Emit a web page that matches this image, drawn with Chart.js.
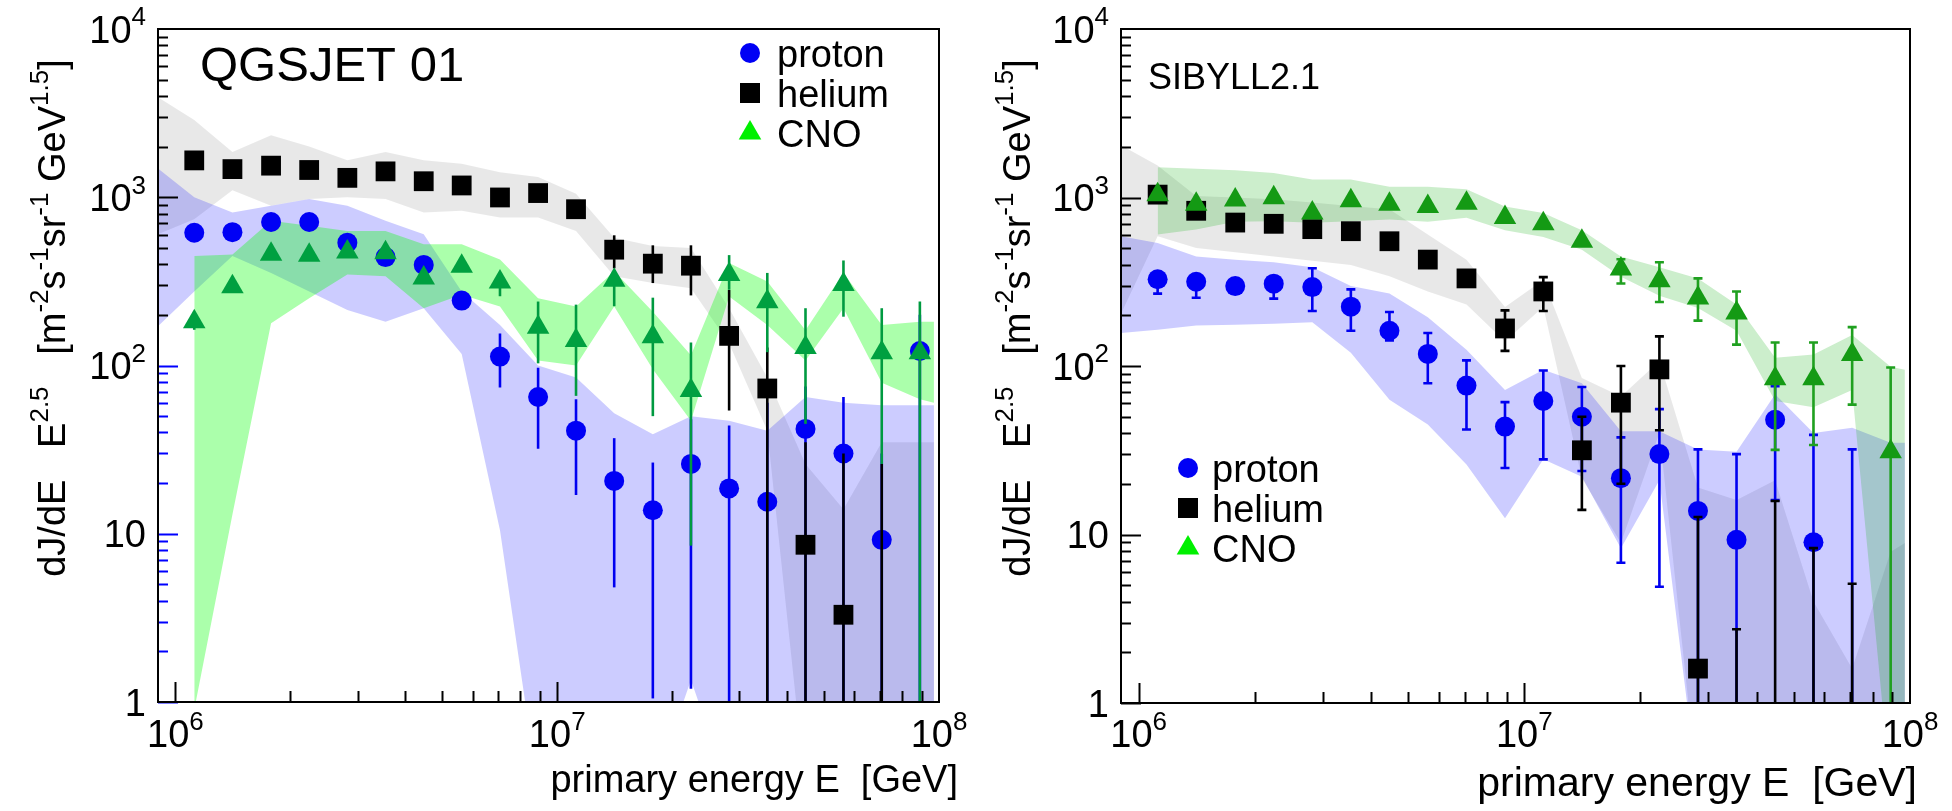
<!DOCTYPE html>
<html>
<head>
<meta charset="utf-8">
<script src="https://cdn.jsdelivr.net/npm/chart.js@4.4.1/dist/chart.umd.min.js"></script>
<style>
html, body { margin: 0; padding: 0; background: #fff; }
#wrap { position: relative; width: 1952px; height: 811px; }
.pane { position: absolute; top: 0; width: 976px; height: 811px; }
</style>
</head>
<body>
<div id="wrap">
  <div class="pane" style="left:0"><canvas id="qgs" width="976" height="811"></canvas></div>
  <div class="pane" style="left:976px"><canvas id="sib" width="976" height="811"></canvas></div>
</div>
<script>
// energy bins (GeV), 0.1 in log10 wide
var binE = [1.12e6, 1.41e6, 1.78e6, 2.24e6, 2.82e6, 3.55e6, 4.47e6, 5.62e6, 7.08e6, 8.91e6,
            1.12e7, 1.41e7, 1.78e7, 2.24e7, 2.82e7, 3.55e7, 4.47e7, 5.62e7, 7.08e7, 8.91e7];
// systematic bands run a little past the first and last bin
var bandE = [9.0e5].concat(binE, [9.7e7]);

var legendLabels = ["proton", "helium", "CNO"];
var xTickVals = [1e6, 1e7, 1e8];
var xTickLabels = [["10", "6"], ["10", "7"], ["10", "8"]];
var yTickVals = [1, 10, 100, 1000, 10000];
var yTickLabels = [["1", ""], ["10", ""], ["10", "2"], ["10", "3"], ["10", "4"]];

// ---- QGSJET 01 ----
var qgsProton   = [615, 620, 713, 713, 537, 441, 396, 243, 113, 65, 41, 20.6, 13.8, 26, 18.6, 15.5, 42, 30, 9.2, 122];
var qgsProtonHi = [null, null, null, null, null, null, null, null, 155, 97, 63, 37, 26.5, 48, 44, 60, 75, 65, 30, 200];
var qgsProtonLo = [null, null, null, null, null, null, null, null, 74, 32, 17, 4.8, 1.05, 1.2, 0.3, 0.3, 0.3, 0.3, 0.3, 0.3];

var qgsHelium   = [1656, 1470, 1541, 1452, 1304, 1425, 1245, 1175, 997, 1059, 849, 488, 403, 392, 150, 73, 8.6, 3.3, null, null];
var qgsHeliumHi = [null, null, null, null, null, null, null, null, null, null, null, 594, 518, 518, 281, 128, 35, 30, 26, null];
var qgsHeliumLo = [null, null, null, null, null, null, null, null, null, null, null, 378, 309, 261, 54, 0.3, 0.3, 0.3, 0.3, null];

var qgsCNO   = [182, 294, 459, 452, 473, 468, 331, 389, 313, 169, 141, 321, 148, 71, 347, 239, 128, 303, 119, 119];
var qgsCNOHi = [200, null, null, null, null, null, null, null, 340, 240, 230, 370, 253, 137, 453, 355, 219, 421, 219, 240];
var qgsCNOLo = [163, null, null, null, null, null, null, null, 258, 103, 66, 225, 50, 8.5, 282, 120, 45, 195, 26, 0.3];

var qgsHeBandHi = [3930, 2880, 1860, 2340, 2000, 1660, 1860, 1660, 1580, 1410, 1320, 1050, 575, 513, 500, 219, 85, 26, 14, 35, 35, 35];
var qgsHeBandLo = [603, 741, 1100, 891, 977, 1000, 977, 813, 832, 759, 759, 631, 339, 309, 288, 135, 41, 0.3, 0.3, 0.3, 0.3, 0.3];
var qgsPBandHi  = [1480, 1000, 813, 891, 977, 891, 724, 603, 275, 174, 100, 85, 52, 39, 50, 47, 41, 65, 60, 58, 58, 58];
var qgsPBandLo  = [171, 275, 447, 355, 275, 214, 182, 219, 117, 10.5, 0.3, 0.3, 0.3, 0.3, 1.35, 0.3, 0.3, 0.3, 0.3, 0.3, 0.3, 0.3];
var qgsCBandHi  = [null, 447, 457, 724, 676, 631, 631, 525, 525, 427, 251, 224, 363, 209, 115, 407, 316, 162, 355, 174, 182, 182];
var qgsCBandLo  = [null, 0.9, 13, 178, 251, 347, 339, 219, 263, 224, 107, 100, 224, 95, 47, 257, 174, 107, 219, 79, 63, 60];

// ---- SIBYLL 2.1 ----
var sibProton   = [327, 316, 298, 308, 294, 225, 162, 118, 76.5, 43.7, 62, 50, 21.6, 30, 13.8, 9.3, 48, 9.0, null, null];
var sibProtonHi = [345, 335, null, 330, 380, 285, 209, 157, 108, 61, 94, 75, 37.7, 55.5, 32, 30, 76, 39, 32, null];
var sibProtonLo = [269, 254, null, 251, 212, 162, 142, 79, 42, 24.8, 27.9, 23.8, 6.8, 4.9, 0.3, 0.3, 16, 0.3, 0.3, null];

var sibHelium   = [1040, 834, 710, 698, 649, 631, 550, 428, 331, 167, 277, 31.6, 60.6, 95.5, 1.6, null, null, null, null, null];
var sibHeliumHi = [null, null, null, null, null, null, null, null, null, 214, 337, 50, 100, 150, 12.7, 2.74, 15.8, 8.3, 5.1, null];
var sibHeliumLo = [null, null, null, null, null, null, null, null, null, 123, 212, 14, 20, 41.6, 0.3, 0.3, 0.3, 0.3, 0.3, null];

var sibCNO   = [1040, 912, 968, 998, 810, 957, 912, 885, 923, 762, 698, 550, 377, 321, 253, 206, 84, 84, 117, 31];
var sibCNOHi = [null, null, null, null, null, null, null, null, null, null, null, null, 430, 413, 331, 277, 138, 138, 170, 98];
var sibCNOLo = [null, null, null, null, null, null, null, null, null, null, null, null, 309, 240, 186, 134, 31.8, 34, 59, 0.3];

var sibHeBandHi = [2040, 1550, 1020, 1000, 977, 933, 891, 851, 603, 427, 224, 324, 85, 66, 107, 19, 16, 21, 4, 1.6, 7.9, 8.9];
var sibHeBandLo = [204, 589, 501, 473, 447, 421, 398, 341, 277, 232, 140, 225, 21.6, 8.9, 40, 0.3, 0.3, 0.3, 0.3, 0.3, 0.3, 0.3];
var sibPBandHi  = [589, 537, 447, 427, 413, 385, 298, 269, 195, 125, 72, 95, 79, 41, 41, 32, 31, 68, 40, 43, 35, 35];
var sibPBandLo  = [157, 164, 174, 176, 178, 182, 120, 63, 45, 26, 12.5, 28, 22, 8.3, 21, 0.3, 0.3, 0.3, 0.3, 0.3, 0.3, 0.3];
var sibCBandHi  = [null, 1510, 1480, 1450, 1400, 1280, 1280, 1160, 1160, 1120, 885, 810, 640, 447, 385, 331, 232, 112, 117, 153, 99, 95];
var sibCBandLo  = [null, 603, 646, 719, 724, 708, 724, 741, 718, 759, 640, 583, 490, 339, 261, 221, 162, 62, 57, 72, 0.3, 0.3];

var FONT = '"Liberation Sans", Arial, Helvetica, sans-serif';

function pts(xs, ys) {
    return xs.map(function (x, i) { return { x: x, y: ys[i] }; });
}

// shaded band = upper line filled down to the lower line
function band(hi, lo, color, order) {
    return [
        { type: 'line', data: pts(bandE, hi), fill: '+1', backgroundColor: color,
          borderColor: 'rgba(0,0,0,0)', borderWidth: 0, pointRadius: 0, order: order },
        { type: 'line', data: pts(bandE, lo), fill: false,
          borderColor: 'rgba(0,0,0,0)', borderWidth: 0, pointRadius: 0, order: order }
    ];
}

function marks(vals, style, radius, color, hi, lo, errColor, cap, order) {
    return { type: 'scatter', data: pts(binE, vals), pointStyle: style, pointRadius: radius,
             backgroundColor: color, borderWidth: 0, errHi: hi, errLo: lo,
             errColor: errColor, cap: cap, order: order };
}

// vertical error bars, drawn just before their markers
var errorBars = {
    id: 'errorBars',
    beforeDatasetDraw: function (chart, args) {
        var ds = chart.data.datasets[args.index];
        if (!ds.errHi) return;
        var ctx = chart.ctx, a = chart.chartArea;
        var sx = chart.scales.x, sy = chart.scales.y;
        ctx.save();
        ctx.beginPath();
        ctx.rect(a.left, a.top, a.right - a.left, a.bottom - a.top);
        ctx.clip();
        ctx.strokeStyle = ds.errColor;
        ctx.lineWidth = 2.6;
        for (var i = 0; i < binE.length; i++) {
            var hi = ds.errHi[i], lo = ds.errLo[i];
            if (hi == null || lo == null) continue;
            var px = sx.getPixelForValue(binE[i]);
            var y1 = sy.getPixelForValue(hi), y2 = sy.getPixelForValue(lo);
            ctx.beginPath();
            ctx.moveTo(px, y1);
            ctx.lineTo(px, y2);
            if (ds.cap) {
                ctx.moveTo(px - ds.cap, y1); ctx.lineTo(px + ds.cap, y1);
                ctx.moveTo(px - ds.cap, y2); ctx.lineTo(px + ds.cap, y2);
            }
            ctx.stroke();
        }
        ctx.restore();
    }
};

// text with superscripts: runs = [[text, isSup], ...]
function drawRuns(ctx, runs, x, y, size, align) {
    var supSize = Math.round(size * 0.68);
    var widths = [], w = 0;
    runs.forEach(function (r) {
        ctx.font = (r[1] ? supSize : size) + 'px ' + FONT;
        var m = ctx.measureText(r[0]).width;
        widths.push(m);
        w += m;
    });
    var cx = align === 'right' ? x - w : (align === 'center' ? x - w / 2 : x);
    runs.forEach(function (r, i) {
        ctx.font = (r[1] ? supSize : size) + 'px ' + FONT;
        ctx.fillText(r[0], cx, r[1] ? y - size * 0.45 : y);
        cx += widths[i];
    });
}

function tickRuns(lbl) {
    return lbl[1] ? [[lbl[0], false], [lbl[1], true]] : [[lbl[0], false]];
}

var yTitleRuns = [["dJ/dE   E", false], ["2.5", true], ["   [m", false], ["-2", true], ["s", false],
                  ["-1", true], ["sr", false], ["-1", true], [" GeV", false], ["1.5", true], ["]", false]];

// ROOT-like frame, inner ticks, labels, titles and legend
function deco(o) {
    return {
        id: 'deco',
        afterDraw: function (chart) {
            var ctx = chart.ctx, a = chart.chartArea;
            var sx = chart.scales.x, sy = chart.scales.y;
            ctx.save();
            ctx.lineWidth = 2;
            ctx.lineCap = 'butt';

            // x ticks, pointing up from the bottom axis
            ctx.strokeStyle = '#000';
            [1e6, 1e7].forEach(function (d) {
                for (var k = 1; k <= 9; k++) {
                    var v = k * d;
                    if (v < sx.min || v > sx.max) continue;
                    var px = Math.round(sx.getPixelForValue(v)) + 0.5;
                    ctx.beginPath();
                    ctx.moveTo(px, a.bottom);
                    ctx.lineTo(px, a.bottom - (k === 1 ? 20 : 11));
                    ctx.stroke();
                }
            });
            // y ticks, pointing right from the left axis
            [1, 10, 100, 1000].forEach(function (d) {
                for (var k = 1; k <= 9; k++) {
                    var v = k * d;
                    var py = Math.round(sy.getPixelForValue(v)) + 0.5;
                    ctx.strokeStyle = (o.lowTickColor && v <= 100) ? o.lowTickColor : '#000';
                    ctx.beginPath();
                    ctx.moveTo(a.left, py);
                    ctx.lineTo(a.left + (k === 1 ? 20 : 10), py);
                    ctx.stroke();
                }
            });

            ctx.strokeStyle = '#000';
            ctx.strokeRect(a.left, a.top, a.right - a.left, a.bottom - a.top);

            // tick labels
            ctx.fillStyle = '#000';
            ctx.textBaseline = 'alphabetic';
            xTickVals.forEach(function (v, i) {
                drawRuns(ctx, tickRuns(xTickLabels[i]), sx.getPixelForValue(v), 747, 38, 'center');
            });
            yTickVals.forEach(function (v, i) {
                drawRuns(ctx, tickRuns(yTickLabels[i]), a.left - 12, sy.getPixelForValue(v) + 13.5, 38, 'right');
            });

            // axis titles
            drawRuns(ctx, [["primary energy E  [GeV]", false]], o.xTitleRight, o.xTitleY, o.xTitleSize, 'right');
            ctx.save();
            ctx.translate(o.yTitleX, 318);
            ctx.rotate(-Math.PI / 2);
            drawRuns(ctx, yTitleRuns, 0, 0, 38, 'center');
            ctx.restore();

            // model name
            ctx.font = o.nameSize + 'px ' + FONT;
            ctx.fillText(o.name, o.nameX, o.nameY);

            // legend
            var lx = o.legendX, ly = o.legendY;
            ctx.fillStyle = '#0000f5';
            ctx.beginPath(); ctx.arc(lx, ly[0], 10, 0, Math.PI * 2); ctx.fill();
            ctx.fillStyle = '#000';
            ctx.fillRect(lx - 10, ly[1] - 10, 20, 20);
            ctx.fillStyle = '#00f000';
            ctx.beginPath();
            ctx.moveTo(lx, ly[2] - 13);
            ctx.lineTo(lx + 11.3, ly[2] + 6.5);
            ctx.lineTo(lx - 11.3, ly[2] + 6.5);
            ctx.closePath(); ctx.fill();
            ctx.fillStyle = '#000';
            ctx.font = '38px ' + FONT;
            legendLabels.forEach(function (t, i) {
                ctx.fillText(t, o.legendTextX, ly[i] + 14);
            });
            ctx.restore();
        }
    };
}

function makeChart(id, sets, pad, opts) {
    return new Chart(document.getElementById(id), {
        type: 'scatter',
        data: { datasets: sets },
        options: {
            responsive: false,
            animation: false,
            events: [],
            layout: { padding: pad },
            scales: {
                x: { type: 'logarithmic', min: 9e5, max: 1e8, display: false },
                y: { type: 'logarithmic', min: 1, max: 1e4, display: false }
            },
            plugins: { legend: { display: false }, tooltip: { enabled: false } }
        },
        plugins: [errorBars, deco(opts)]
    });
}

var GRAY = 'rgba(0,0,0,0.09)', LAVENDER = 'rgba(0,0,255,0.2)';

makeChart('qgs',
    [].concat(
        band(qgsHeBandHi, qgsHeBandLo, GRAY, 7),
        band(qgsPBandHi, qgsPBandLo, LAVENDER, 6),
        band(qgsCBandHi, qgsCBandLo, 'rgba(0,255,0,0.33)', 5),
        [marks(qgsProton, 'circle', 10, '#0000f5', qgsProtonHi, qgsProtonLo, '#0000f0', 0, 3),
         marks(qgsHelium, 'rect', 14, '#000', qgsHeliumHi, qgsHeliumLo, '#000', 0, 2),
         marks(qgsCNO, 'triangle', 13, '#00a040', qgsCNOHi, qgsCNOLo, '#009a40', 0, 1)]
    ),
    { left: 158, right: 37, top: 29, bottom: 109 },
    { lowTickColor: '#0000ff', name: 'QGSJET 01', nameX: 200, nameY: 81, nameSize: 49,
      legendX: 750, legendY: [53, 93, 133], legendTextX: 777,
      yTitleX: 65, xTitleRight: 958, xTitleY: 792, xTitleSize: 38 }
);

makeChart('sib',
    [].concat(
        band(sibHeBandHi, sibHeBandLo, GRAY, 7),
        band(sibPBandHi, sibPBandLo, LAVENDER, 6),
        band(sibCBandHi, sibCBandLo, 'rgba(0,170,0,0.2)', 5),
        [marks(sibProton, 'circle', 10, '#0000f5', sibProtonHi, sibProtonLo, '#0000f0', 4.5, 3),
         marks(sibHelium, 'rect', 14, '#000', sibHeliumHi, sibHeliumLo, '#000', 4.5, 2),
         marks(sibCNO, 'triangle', 13, '#149a14', sibCNOHi, sibCNOLo, '#1fa01f', 4.5, 1)]
    ),
    { left: 145, right: 42, top: 29, bottom: 108 },
    { lowTickColor: null, name: 'SIBYLL2.1', nameX: 172, nameY: 89, nameSize: 36,
      legendX: 212, legendY: [468, 508, 548], legendTextX: 236,
      yTitleX: 54, xTitleRight: 941, xTitleY: 796, xTitleSize: 41 }
);
</script>
</body>
</html>
